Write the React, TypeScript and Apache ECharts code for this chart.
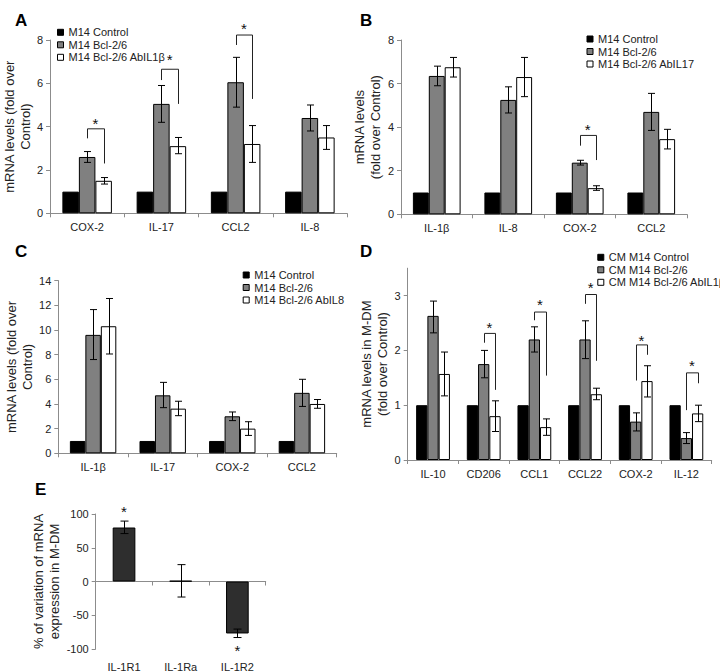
import React, { useEffect, useRef } from 'react';
import * as echarts from 'echarts';

const FONT = '"Liberation Sans", Arial, Helvetica, sans-serif';

// ---------- Panel A ----------
const aCategories = ['COX-2', 'IL-17', 'CCL2', 'IL-8'];
const aLegend = ['M14 Control', 'M14 Bcl-2/6', 'M14 Bcl-2/6 AbIL1β'];
const aControl = [1, 1, 1, 1];
const aBcl = [2.6, 5.05, 6.05, 4.4];
const aBclLo = [2.35, 4.2, 4.9, 3.8];
const aBclHi = [2.85, 5.9, 7.2, 5.0];
const aAb = [1.5, 3.1, 3.2, 3.5];
const aAbLo = [1.35, 2.75, 2.35, 2.95];
const aAbHi = [1.65, 3.5, 4.05, 4.05];
const aBracketCat = [0, 1, 2];
const aBracketTop = [3.9, 6.65, 8.23];
const aBracketLeft = [3.46, 6.15, 7.77];
const aBracketRight = [2.3, 5.05, 5.28];
const aStar = [4.3, 7.23, 8.69];

// ---------- Panel B ----------
const bCategories = ['IL-1β', 'IL-8', 'COX-2', 'CCL2'];
const bLegend = ['M14 Control', 'M14 Bcl-2/6', 'M14 Bcl-2/6 AbIL17'];
const bControl = [1, 1, 1, 1];
const bBcl = [6.35, 5.25, 2.37, 4.7];
const bBclLo = [5.9, 4.65, 2.26, 3.85];
const bBclHi = [6.8, 5.85, 2.48, 5.55];
const bAb = [6.75, 6.3, 1.2, 3.45];
const bAbLo = [6.3, 5.4, 1.1, 3.0];
const bAbHi = [7.2, 7.2, 1.31, 3.9];
const bBracketCat = [2];
const bBracketTop = [3.62];
const bBracketLeft = [3.15];
const bBracketRight = [2.49];
const bStar = [4.02];

// ---------- Panel C ----------
const cCategories = ['IL-1β', 'IL-17', 'COX-2', 'CCL2'];
const cLegend = ['M14 Control', 'M14 Bcl-2/6', 'M14 Bcl-2/6 AbIL8'];
const cControl = [1, 1, 1, 1];
const cBcl = [9.6, 4.7, 3.0, 4.9];
const cBclLo = [7.6, 3.7, 2.65, 3.8];
const cBclHi = [11.65, 5.75, 3.35, 6.0];
const cAb = [10.3, 3.62, 2.0, 4.0];
const cAbLo = [8.05, 3.05, 1.45, 3.65];
const cAbHi = [12.55, 4.22, 2.56, 4.36];

// ---------- Panel D ----------
const dCategories = ['IL-10', 'CD206', 'CCL1', 'CCL22', 'COX-2', 'IL-12'];
const dLegend = ['CM M14 Control', 'CM M14 Bcl-2/6', 'CM M14 Bcl-2/6 AbIL1β'];
const dControl = [1, 1, 1, 1, 1, 1];
const dBcl = [2.63, 1.75, 2.2, 2.2, 0.7, 0.4];
const dBclLo = [2.32, 1.5, 1.97, 1.85, 0.53, 0.3];
const dBclHi = [2.9, 2.0, 2.43, 2.54, 0.86, 0.5];
const dAb = [1.57, 0.8, 0.6, 1.2, 1.44, 0.85];
const dAbLo = [1.17, 0.52, 0.45, 1.1, 1.15, 0.7];
const dAbHi = [1.97, 1.08, 0.75, 1.31, 1.72, 1.0];
const dBracketCat = [1, 2, 3, 4, 5];
const dBracketTop = [2.31, 2.7, 3.02, 2.1, 1.59];
const dBracketLeft = [2.14, 2.55, 2.85, 1.45, 0.91];
const dBracketRight = [1.28, 1.54, 1.81, 1.92, 1.4];
const dStar = [2.48, 2.89, 3.2, 2.24, 1.78];
const dTickValues = [0, 1, 2, 3];

// ---------- Panel E ----------
const eCategories = ['IL-1R1', 'IL-1Ra', 'IL-1R2'];
const eValues = [80, 1, -77];
const eLo = [71, -23, -83];
const eHi = [89.5, 25, -70.5];
const eStarCat = [0, 2];
const eStar = [108, -98];

const BLACK = '#000000';
const GRAY = '#808080';
const WHITE = '#ffffff';
const DARK = '#2e2e2e';
const AXIS = '#8c8c8c';
const TXT = '#222222';
const GAP_FRAC = 1 / 3;

const lineStyle = { stroke: '#000', lineWidth: 1 };

function barW(api: any, nBars: number) {
  const band = api.size([1, 0])[0];
  return (band * (1 - GAP_FRAC)) / nBars;
}

function errRender(k: number, nBars: number, cap: number) {
  return (params: any, api: any) => {
    const cat = api.value(0);
    const lo = api.coord([cat, api.value(1)]);
    const hi = api.coord([cat, api.value(2)]);
    const bw = nBars === 1 ? 0 : barW(api, nBars);
    const x = Math.round(lo[0] + (k - 1) * bw) + 0.5;
    return {
      type: 'group',
      children: [
        { type: 'line', shape: { x1: x, y1: lo[1], x2: x, y2: hi[1] }, style: lineStyle },
        { type: 'line', shape: { x1: x - cap / 2, y1: lo[1], x2: x + cap / 2, y2: lo[1] }, style: lineStyle },
        { type: 'line', shape: { x1: x - cap / 2, y1: hi[1], x2: x + cap / 2, y2: hi[1] }, style: lineStyle },
      ],
    };
  };
}

function bracketRender(params: any, api: any) {
  const cat = api.value(0);
  const top = api.coord([cat, api.value(1)]);
  const left = api.coord([cat, api.value(2)]);
  const right = api.coord([cat, api.value(3)]);
  const bw = barW(api, 3);
  const gx = Math.round(top[0]) + 0.5;
  const wx = Math.round(top[0] + bw) + 0.5;
  return {
    type: 'polyline',
    shape: { points: [[gx, left[1]], [gx, top[1]], [wx, top[1]], [wx, right[1]]] },
    style: { stroke: '#222', lineWidth: 1, fill: 'none' },
  };
}

function starRender(offsetBars: number) {
  return (params: any, api: any) => {
    const cat = api.value(0);
    const p = api.coord([cat, api.value(1)]);
    const bw = offsetBars ? barW(api, 3) : 0;
    return {
      type: 'text',
      x: p[0] + bw * offsetBars,
      y: p[1] + 3,
      style: { text: '*', fill: '#111', font: `15px ${FONT}`, align: 'center', verticalAlign: 'middle' },
    };
  };
}

function zip3(c: number[], a: number[], b: number[]) {
  return c.map((v, i) => [v, a[i], b[i]]);
}

function panelSeries(
  gi: number,
  names: string[],
  control: number[],
  bcl: number[],
  bclLo: number[],
  bclHi: number[],
  ab: number[],
  abLo: number[],
  abHi: number[],
  bracketCat: number[] | null,
  bracketTop: number[] | null,
  bracketLeft: number[] | null,
  bracketRight: number[] | null,
  star: number[] | null
) {
  const idx = control.map((_, i) => i);
  const bar = (name: string, data: number[], color: string) => ({
    type: 'bar',
    name,
    xAxisIndex: gi,
    yAxisIndex: gi,
    data,
    barGap: '0%',
    barCategoryGap: '33.3%',
    itemStyle: { color, borderColor: '#000', borderWidth: 1 },
    emphasis: { disabled: true },
  });
  const s: any[] = [
    bar(names[0], control, BLACK),
    bar(names[1], bcl, GRAY),
    bar(names[2], ab, WHITE),
    {
      type: 'custom',
      xAxisIndex: gi,
      yAxisIndex: gi,
      renderItem: errRender(1, 3, 7),
      encode: { x: 0, y: [1, 2] },
      data: zip3(idx, bclLo, bclHi),
      z: 5,
    },
    {
      type: 'custom',
      xAxisIndex: gi,
      yAxisIndex: gi,
      renderItem: errRender(2, 3, 7),
      encode: { x: 0, y: [1, 2] },
      data: zip3(idx, abLo, abHi),
      z: 5,
    },
  ];
  if (bracketCat && bracketTop && bracketLeft && bracketRight && star) {
    s.push({
      type: 'custom',
      xAxisIndex: gi,
      yAxisIndex: gi,
      renderItem: bracketRender,
      encode: { x: 0, y: [1, 2, 3] },
      data: bracketCat.map((c, i) => [c, bracketTop[i], bracketLeft[i], bracketRight[i]]),
      clip: false,
      z: 5,
    });
    s.push({
      type: 'custom',
      xAxisIndex: gi,
      yAxisIndex: gi,
      renderItem: starRender(0.5),
      encode: { x: 0, y: 1 },
      data: bracketCat.map((c, i) => [c, star[i]]),
      clip: false,
      z: 6,
    });
  }
  return s;
}

const grids = [
  { left: 50, top: 40, width: 297, height: 173.3 },
  { left: 401, top: 40, width: 286, height: 174.3 },
  { left: 58.3, top: 280.6, width: 278.4, height: 172.7 },
  { left: 407.7, top: 268.2, width: 304, height: 191.8 },
  { left: 95.7, top: 514, width: 170, height: 141 },
];

const catAxis = (gi: number, data: string[]) => ({
  type: 'category',
  gridIndex: gi,
  data,
  axisLine: { show: true, lineStyle: { color: AXIS, width: 1 } },
  axisTick: { show: true, length: 4, lineStyle: { color: AXIS } },
  axisLabel: { interval: 0, fontSize: 11, color: TXT, margin: 8, fontFamily: FONT },
  splitLine: { show: false },
});

const valAxis = (gi: number, min: number, max: number, interval: number, name: string, nameGap: number, extra: any = {}) => ({
  type: 'value',
  gridIndex: gi,
  min,
  max,
  interval,
  name,
  nameLocation: 'middle',
  nameGap,
  nameRotate: 90,
  nameTextStyle: { fontSize: 13, lineHeight: 16, color: TXT, fontFamily: FONT },
  axisLine: { show: true, lineStyle: { color: AXIS, width: 1 } },
  axisTick: { show: true, length: 4, lineStyle: { color: AXIS }, ...(extra.axisTick || {}) },
  axisLabel: { fontSize: 11, color: TXT, margin: 7, fontFamily: FONT, ...(extra.axisLabel || {}) },
  splitLine: { show: false },
});

const legend = (left: number, top: number, data: string[]) => ({
  orient: 'vertical',
  left,
  top,
  padding: 0,
  data,
  icon: 'rect',
  itemWidth: 6,
  itemHeight: 6,
  itemGap: 0.5,
  itemTextGap: 1.5,
  selectedMode: false,
  itemStyle: { borderColor: '#000', borderWidth: 1 },
  textStyle: { fontSize: 11, lineHeight: 12, color: TXT, fontFamily: FONT },
});

const letter = (t: string, x: number, y: number) => ({
  type: 'text',
  x,
  y,
  style: { text: t, font: `bold 17px ${FONT}`, fill: '#000', verticalAlign: 'middle', align: 'left' },
});

const eIdx = eCategories.map((_, i) => i);

const option: any = {
  animation: false,
  backgroundColor: '#ffffff',
  textStyle: { fontFamily: FONT },
  grid: grids,
  legend: [
    legend(57, 26.3, aLegend),
    legend(586.5, 33, bLegend),
    legend(242.7, 269, cLegend),
    legend(597.3, 251.3, dLegend),
  ],
  xAxis: [
    catAxis(0, aCategories),
    catAxis(1, bCategories),
    catAxis(2, cCategories),
    catAxis(3, dCategories),
    {
      ...catAxis(4, eCategories),
      axisLine: { show: true, onZero: true, lineStyle: { color: AXIS, width: 1 } },
      axisLabel: { show: false },
    },
    {
      ...catAxis(4, eCategories),
      position: 'bottom',
      axisLine: { show: false, onZero: false },
      axisTick: { show: false },
      axisLabel: { interval: 0, fontSize: 11, color: TXT, margin: 12, fontFamily: FONT },
    },
  ],
  yAxis: [
    valAxis(0, 0, 8, 2, 'mRNA levels (fold over\nControl)', 13),
    valAxis(1, 0, 8, 2, 'mRNA levels\n(fold over Control)', 13),
    valAxis(2, 0, 14, 2, 'mRNA levels (fold over\nControl)', 13),
    valAxis(3, 0, 3.5, 1, 'mRNA levels in M-DM\n(fold over Control)', 16, {
      axisLabel: { customValues: dTickValues },
      axisTick: { customValues: dTickValues },
    }),
    valAxis(4, -100, 100, 50, '% of variation of mRNA\nexpression in M-DM', 33),
  ],
  series: [
    ...panelSeries(0, aLegend, aControl, aBcl, aBclLo, aBclHi, aAb, aAbLo, aAbHi, aBracketCat, aBracketTop, aBracketLeft, aBracketRight, aStar),
    ...panelSeries(1, bLegend, bControl, bBcl, bBclLo, bBclHi, bAb, bAbLo, bAbHi, bBracketCat, bBracketTop, bBracketLeft, bBracketRight, bStar),
    ...panelSeries(2, cLegend, cControl, cBcl, cBclLo, cBclHi, cAb, cAbLo, cAbHi, null, null, null, null, null),
    ...panelSeries(3, dLegend, dControl, dBcl, dBclLo, dBclHi, dAb, dAbLo, dAbHi, dBracketCat, dBracketTop, dBracketLeft, dBracketRight, dStar),
    {
      type: 'bar',
      name: 'IL-1 receptors',
      xAxisIndex: 4,
      yAxisIndex: 4,
      data: eValues,
      barCategoryGap: '60%',
      itemStyle: { color: DARK, borderColor: '#000', borderWidth: 1 },
      emphasis: { disabled: true },
    },
    {
      type: 'custom',
      xAxisIndex: 4,
      yAxisIndex: 4,
      renderItem: errRender(1, 1, 8),
      encode: { x: 0, y: [1, 2] },
      data: zip3(eIdx, eLo, eHi),
      z: 5,
    },
    {
      type: 'custom',
      xAxisIndex: 4,
      yAxisIndex: 4,
      renderItem: starRender(0),
      encode: { x: 0, y: 1 },
      data: eStarCat.map((c, i) => [c, eStar[i]]),
      clip: false,
      z: 6,
    },
  ],
  graphic: [
    letter('A', 15, 20.5),
    letter('B', 360, 20.5),
    letter('C', 15, 251),
    letter('D', 360, 251),
    letter('E', 35, 489),
  ],
};

export default function App() {
  const ref = useRef<HTMLDivElement>(null);
  useEffect(() => {
    if (!ref.current) return;
    const chart = echarts.init(ref.current, null, { renderer: 'svg' });
    chart.setOption(option);
    return () => chart.dispose();
  }, []);
  return (
    <div
      ref={ref}
      style={{ position: 'absolute', left: 0, top: 0, width: 720, height: 672, background: '#fff' }}
    />
  );
}
